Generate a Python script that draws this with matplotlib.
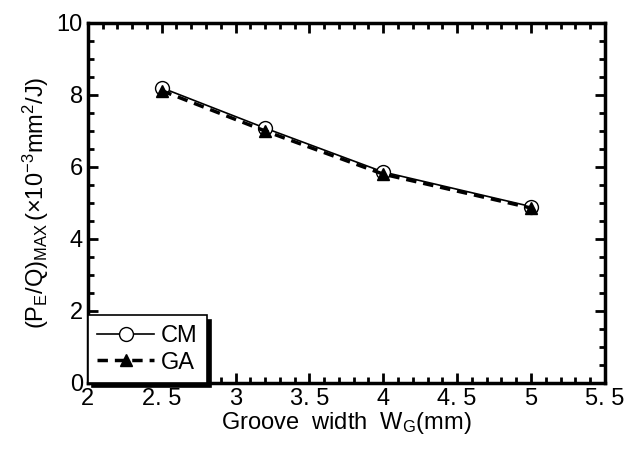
import matplotlib.pyplot as plt
from matplotlib.ticker import MultipleLocator, FixedLocator
from matplotlib import font_manager

names = sorted(set(f.name for f in font_manager.fontManager.ttflist))
narrow = 'Liberation Sans Narrow' if 'Liberation Sans Narrow' in names else 'Liberation Sans'
plt.rcParams['font.family'] = [narrow, 'DejaVu Sans']
plt.rcParams['mathtext.fontset'] = 'custom'
plt.rcParams['mathtext.rm'] = narrow
plt.rcParams['mathtext.it'] = narrow

width = [2.5, 3.2, 4.0, 5.0]
cm = [8.2, 7.08, 5.86, 4.9]
ga = [8.12, 7.0, 5.8, 4.86]

xticks = [2, 2.5, 3, 3.5, 4, 4.5, 5, 5.5]
xticklabels = ['2', '2. 5', '3', '3. 5', '4', '4. 5', '5', '5. 5']

fig = plt.figure(figsize=(6.36, 4.5), dpi=100)
ax = fig.add_axes([0.138, 0.149, 0.813, 0.80])

ax.plot(width, cm, '-', color='black', lw=1.2, marker='o', ms=10,
        mfc='white', mec='black', mew=1.0, label='CM', zorder=3)
ax.plot(width, ga, '--', color='black', lw=2.5, dashes=(3, 2), marker='^', ms=8,
        mfc='black', mec='black', label='GA', zorder=4)

ax.set_xlim(2, 5.5)
ax.set_ylim(0, 10)
ax.xaxis.set_major_locator(FixedLocator(xticks))
ax.set_xticklabels(xticklabels)
ax.xaxis.set_minor_locator(MultipleLocator(0.1))
ax.yaxis.set_major_locator(MultipleLocator(2))
ax.yaxis.set_minor_locator(MultipleLocator(0.5))
ax.tick_params(which='both', direction='in', top=True, right=True, width=2, labelsize=17)
ax.tick_params(which='major', length=7)
ax.tick_params(which='minor', length=4)
for s in ax.spines.values():
    s.set_linewidth(2.5)

ax.set_xlabel(r'Groove  width  $\mathregular{W_G}$(mm)', fontsize=17, labelpad=0)
ax.set_ylabel(r'$\mathregular{(P_E/Q)_{MAX}\,(\times 10^{-3}mm^2/J)}$', fontsize=17, labelpad=4)

leg = ax.legend(loc='lower left', borderaxespad=0, fancybox=False, fontsize=17,
                edgecolor='black', framealpha=1, handlelength=2.4, handletextpad=0.3,
                borderpad=0.4, labelspacing=0.2,
                shadow={'color': 'black', 'alpha': 1, 'ox': 3, 'oy': -3})
leg.get_frame().set_linewidth(1.2)
leg.set_zorder(10)

fig.savefig('out.png', dpi=100)
